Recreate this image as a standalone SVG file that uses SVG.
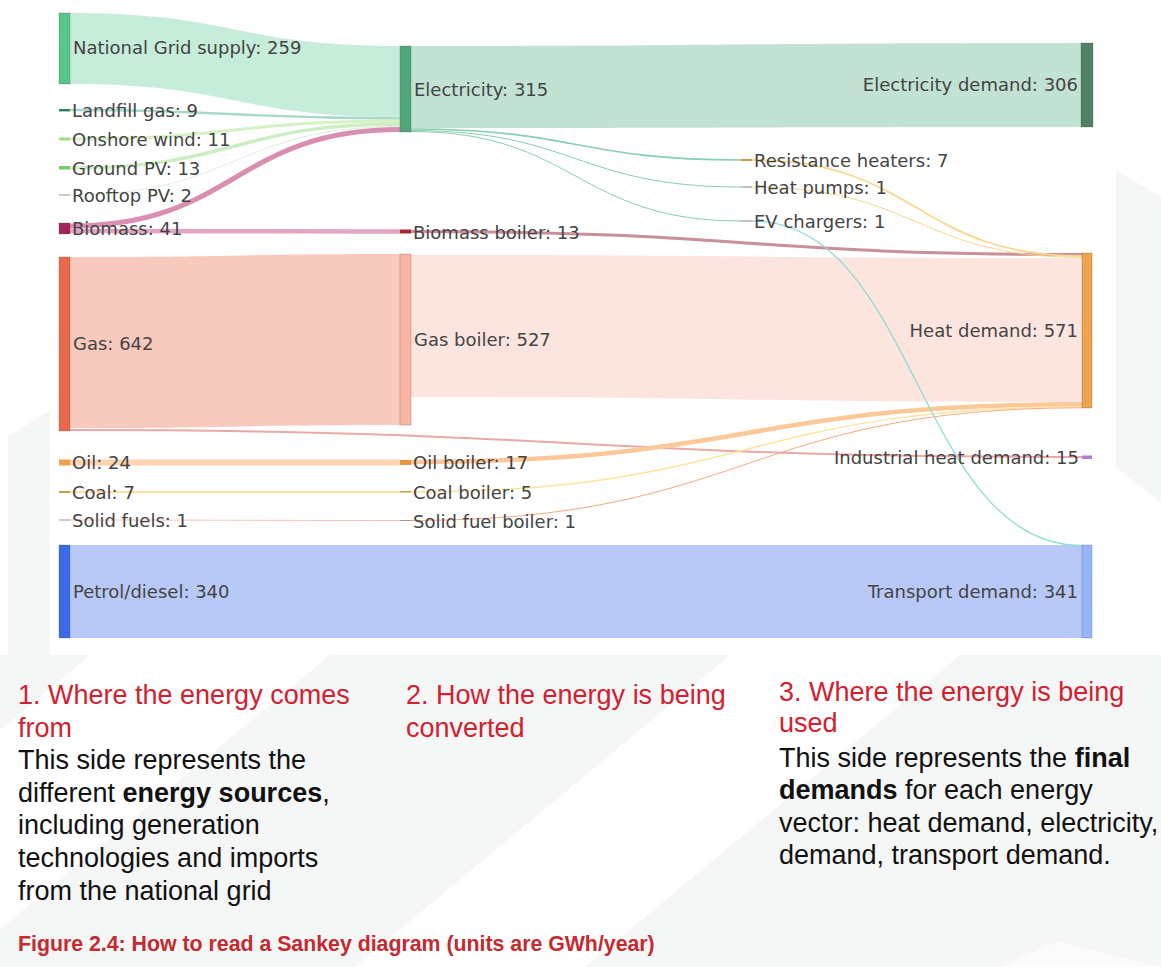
<svg xmlns="http://www.w3.org/2000/svg" width="1161" height="967" viewBox="0 0 1161 967">
<style>
.lbl{font-family:"DejaVu Sans","Liberation Sans",sans-serif;font-size:18px;fill:#444}
.end{text-anchor:end}
.node{stroke:rgba(80,80,80,0.35);stroke-width:0.8}
.lk{fill:none}
.hd{font-family:"Liberation Sans",Arial,sans-serif;font-size:27px;fill:#d3202f}
.bd{font-family:"Liberation Sans",Arial,sans-serif;font-size:27px;fill:#111}
.b{font-weight:bold}
.cap{font-family:"Liberation Sans",Arial,sans-serif;font-size:21.3px;font-weight:bold;fill:#c42a30}
.bg{fill:#f5f6f6}
</style>
<rect width="1161" height="967" fill="#ffffff"/>
<g id="background">
<polygon class="bg" points="8,437 50,410 50,655 8,655"/>
<polygon class="bg" points="1116,170 1161,197 1161,503 1116,467"/>
<polygon class="bg" points="0,655 1161,655 1161,967 0,967"/>
<polygon fill="#ffffff" points="90,655 330,655 -45,967 -285,967"/>
<polygon fill="#ffffff" points="730,655 960,655 585,967 355,967"/>
<polygon fill="#fbfbfb" points="1058,941 1161,967 1000,967"/>
</g>
<g id="connectors">
<path d="M70,13 C235,13 235,46 400,46 L400,117 C235,117 235,84 70,84 Z" fill="#c6ecda"/>
<path d="M411,46 C746,46 746,43 1081,43 L1081,127 C746,127 746,128 411,128 Z" fill="#c2e2d3"/>
<path d="M70,257 C235,257 235,254 400,254 L400,425 C235,425 235,428 70,428 Z" fill="#f8c9bd"/>
<path d="M411,255 C746,255 746,258 1082,258 L1082,402 C746,402 746,397 411,397 Z" fill="#fde5df"/>
<path d="M70,545 L1082,545 L1082,638 L70,638 Z" fill="#b8c9f8"/>
<path class="lk" stroke="#a8d8cc" stroke-width="2.4" d="M70,110 C235,110 235,118.5 400,118.5"/>
<path class="lk" stroke="#d6f2c4" stroke-width="3" d="M70,139 C235,139 235,121 400,121"/>
<path class="lk" stroke="#cdeec2" stroke-width="3.5" d="M70,168 C235,168 235,124 400,124"/>
<path class="lk" stroke="#dff0dc" stroke-width="1" d="M70,195 C235,195 235,126.5 400,126.5"/>
<path class="lk" stroke="#d98fb2" stroke-width="5" d="M70,226 C235,226 235,129.5 400,129.5"/>
<path class="lk" stroke="#e2a6c2" stroke-width="4.5" d="M70,231 C235,231 235,231.5 400,231.5"/>
<path class="lk" stroke="#86cfb0" stroke-width="1.6" d="M411,129 C576,129 576,160 741,160"/>
<path class="lk" stroke="#86cfb0" stroke-width="1" d="M411,130.5 C576,130.5 576,187 741,187"/>
<path class="lk" stroke="#86cfb0" stroke-width="1" d="M411,131.5 C576,131.5 576,221 741,221"/>
<path class="lk" stroke="#c9909a" stroke-width="3" d="M411,231.5 C746,231.5 746,254.5 1082,254.5"/>
<path class="lk" stroke="#f8d890" stroke-width="1.8" d="M752,160 C917,160 917,256 1082,256"/>
<path class="lk" stroke="#f8d890" stroke-width="1" d="M752,187 C917,187 917,257.3 1082,257.3"/>
<path class="lk" stroke="#eba8a6" stroke-width="2" d="M70,430 C576,430 576,457 1082,457"/>
<path class="lk" stroke="#fdd3b0" stroke-width="6" d="M70,462.5 C235,462.5 235,462.5 400,462.5"/>
<path class="lk" stroke="#fde0a8" stroke-width="2" d="M70,492 C235,492 235,492 400,492"/>
<path class="lk" stroke="#f8c4b4" stroke-width="1" d="M70,520 C235,520 235,520.5 400,520.5"/>
<path class="lk" stroke="#fcc898" stroke-width="4.5" d="M411,462 C746,462 746,404.3 1082,404.3"/>
<path class="lk" stroke="#fde4a0" stroke-width="1.5" d="M411,492 C746,492 746,406.8 1082,406.8"/>
<path class="lk" stroke="#f8a880" stroke-width="1" d="M411,520.5 C746,520.5 746,407.8 1082,407.8"/>
<path class="lk" stroke="#8fdcd6" stroke-width="1.3" d="M752,221 C917,221 917,545.5 1082,545.5"/>
</g>
<g id="n-national-grid"><rect class="node" x="59" y="13" width="11" height="71" fill="#57c68c"/><text class="lbl" x="73" y="54">National Grid supply: 259</text></g>
<g id="n-landfill"><rect x="59" y="109" width="11" height="2.4" fill="#2e7d64"/><text class="lbl" x="72" y="116.5">Landfill gas: 9</text></g>
<g id="n-onshore"><rect x="59" y="137.5" width="11" height="3" fill="#a3dc8f"/><text class="lbl" x="72" y="145.5">Onshore wind: 11</text></g>
<g id="n-groundpv"><rect x="59" y="166" width="11" height="3.5" fill="#7cc86f"/><text class="lbl" x="72" y="174.5">Ground PV: 13</text></g>
<g id="n-rooftop"><rect x="59" y="194.5" width="11" height="1" fill="#999999"/><text class="lbl" x="72" y="201.5">Rooftop PV: 2</text></g>
<g id="n-biomass"><rect class="node" x="59" y="223" width="11" height="11" fill="#a3245a"/><text class="lbl" x="72" y="235">Biomass: 41</text></g>
<g id="n-gas"><rect class="node" x="59" y="257" width="11" height="174" fill="#e96a4b"/><text class="lbl" x="73" y="349.5">Gas: 642</text></g>
<g id="n-oil"><rect x="59" y="459.5" width="11" height="6" fill="#f0a04a"/><text class="lbl" x="72" y="469">Oil: 24</text></g>
<g id="n-coal"><rect x="59" y="491" width="11" height="2" fill="#c8a03c"/><text class="lbl" x="72" y="498.5">Coal: 7</text></g>
<g id="n-solid"><rect x="59" y="519.5" width="11" height="1" fill="#999999"/><text class="lbl" x="72" y="526.5">Solid fuels: 1</text></g>
<g id="n-petrol"><rect class="node" x="59" y="545" width="11" height="93" fill="#396be8"/><text class="lbl" x="73" y="598">Petrol/diesel: 340</text></g>
<g id="n-electricity"><rect class="node" x="400" y="46" width="11" height="86" fill="#4ea67a"/><text class="lbl" x="414" y="95.5">Electricity: 315</text></g>
<g id="n-biomass-boiler"><rect x="400" y="229.5" width="11" height="4" fill="#a52a2a"/><text class="lbl" x="413" y="238.5">Biomass boiler: 13</text></g>
<g id="n-gas-boiler"><rect class="node" x="400" y="254" width="11" height="171" fill="#fcb5a3"/><text class="lbl" x="414" y="345.5">Gas boiler: 527</text></g>
<g id="n-oil-boiler"><rect x="400" y="460" width="11" height="5" fill="#e8963e"/><text class="lbl" x="413" y="469">Oil boiler: 17</text></g>
<g id="n-coal-boiler"><rect x="400" y="491" width="11" height="1.5" fill="#c8a03c"/><text class="lbl" x="413" y="498.5">Coal boiler: 5</text></g>
<g id="n-solid-boiler"><rect x="400" y="520" width="11" height="1" fill="#999999"/><text class="lbl" x="413" y="527.5">Solid fuel boiler: 1</text></g>
<g id="n-resistance"><rect x="741" y="159" width="11" height="2" fill="#c8a03c"/><text class="lbl" x="754" y="166.5">Resistance heaters: 7</text></g>
<g id="n-heatpumps"><rect x="741" y="186.5" width="11" height="1" fill="#888888"/><text class="lbl" x="754" y="193.5">Heat pumps: 1</text></g>
<g id="n-ev"><rect x="741" y="220.5" width="11" height="1" fill="#888888"/><text class="lbl" x="754" y="227.5">EV chargers: 1</text></g>
<g id="n-elec-demand"><rect class="node" x="1081" y="43" width="12" height="84" fill="#4f8064"/><text class="lbl end" x="1078" y="90.5">Electricity demand: 306</text></g>
<g id="n-heat-demand"><rect class="node" x="1082" y="253" width="10" height="155" fill="#eea34d"/><text class="lbl end" x="1078" y="336.5">Heat demand: 571</text></g>
<g id="n-industrial"><rect x="1082" y="455.5" width="10" height="3.5" fill="#b07ad6"/><text class="lbl end" x="1079" y="463.5">Industrial heat demand: 15</text></g>
<g id="n-transport"><rect class="node" x="1082" y="545" width="10" height="93" fill="#97b6fa"/><text class="lbl end" x="1078" y="597.5">Transport demand: 341</text></g>
<g id="notes">
<text class="hd" x="18" y="704">1. Where the energy comes</text>
<text class="hd" x="18" y="736.6">from</text>
<text class="bd" x="18" y="769.2">This side represents the</text>
<text class="bd" x="18" y="801.8">different <tspan class="b">energy sources</tspan>,</text>
<text class="bd" x="18" y="834.4">including generation</text>
<text class="bd" x="18" y="867">technologies and imports</text>
<text class="bd" x="18" y="899.6">from the national grid</text>
<text class="hd" x="406" y="704">2. How the energy is being</text>
<text class="hd" x="406" y="736.6">converted</text>
<text class="hd" x="779" y="700.5">3. Where the energy is being</text>
<text class="hd" x="779" y="732">used</text>
<text class="bd" x="779" y="766.5">This side represents the <tspan class="b">final</tspan></text>
<text class="bd" x="779" y="799"><tspan class="b">demands</tspan> for each energy</text>
<text class="bd" x="779" y="831.5">vector: heat demand, electricity,</text>
<text class="bd" x="779" y="864">demand, transport demand.</text>
<text class="cap" x="18" y="950.5">Figure 2.4: How to read a Sankey diagram (units are GWh/year)</text>
</g>
</svg>
